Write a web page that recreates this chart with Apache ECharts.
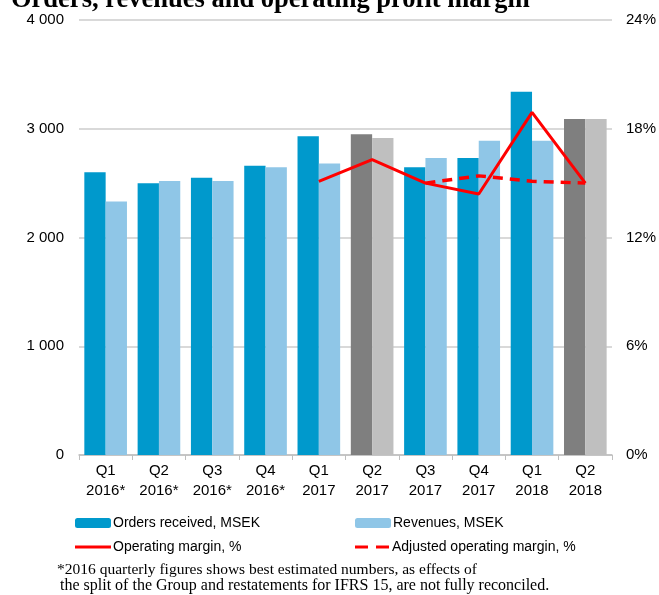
<!DOCTYPE html>
<html>
<head>
<meta charset="utf-8">
<script src="https://cdn.jsdelivr.net/npm/echarts@6/dist/echarts.min.js"></script>
<style>html,body{margin:0;padding:0;background:#fff;}#c{width:659px;height:595px;}</style>
</head>
<body>
<div id="c"></div>
<script>
const categories = ['Q1\n2016*','Q2\n2016*','Q3\n2016*','Q4\n2016*','Q1\n2017','Q2\n2017','Q3\n2017','Q4\n2017','Q1\n2018','Q2\n2018'];
const ordersReceived = [2600, 2500, 2550, 2660, 2930, 2950, 2645, 2730, 3340, 3090];
const revenues = [2330, 2520, 2520, 2645, 2680, 2915, 2730, 2890, 2890, 3090];
const operatingMargin = [null, null, null, null, 15.1, 16.3, 15.0, 14.4, 18.9, 15.0];
const adjustedMargin = [null, null, null, null, null, null, 15.0, 15.4, 15.1, 15.0];
const greyCategories = [5, 9];

const chart = echarts.init(document.getElementById('c'));
const lbl = {fontFamily: 'Liberation Sans', fontSize: 15, color: '#000'};
function barData(vals, normal, grey) {
  return vals.map((v, i) => greyCategories.includes(i) ? {value: v, itemStyle: {color: grey}} : {value: v, itemStyle: {color: normal}});
}
function legendAt(name, left, top, icon, h) {
  const l = {data: [name], left: left, top: top, itemWidth: 36, itemHeight: h, itemGap: 0, padding: 0,
    textStyle: {fontFamily: 'Liberation Sans', fontSize: 14, color: '#000', padding: [0,0,0,-3]}, selectedMode: false};
  if (icon) l.icon = icon;
  return l;
}
chart.setOption({
  animation: false,
  backgroundColor: '#fff',
  grid: {left: 79, right: 47, top: 20, bottom: 140},
  legend: [
    legendAt('Orders received, MSEK', 75, 516, null, 10),
    legendAt('Revenues, MSEK', 355, 516, null, 10),
    legendAt('Operating margin, %', 75, 540, 'path://M0,0H36V3H0Z', 3),
    legendAt('Adjusted operating margin, %', 355, 540, 'path://M0,0H13V3H0Z M21,0H34V3H21Z', 3)
  ],
  xAxis: {
    type: 'category', data: categories,
    axisLine: {lineStyle: {color: '#BFBFBF', width: 1.5}},
    axisTick: {show: true, alignWithLabel: false, length: 5, lineStyle: {color: '#BFBFBF'}},
    axisLabel: Object.assign({}, lbl, {lineHeight: 20, margin: 6, interval: 0})
  },
  yAxis: [
    {type: 'value', min: 0, max: 4000, interval: 1000,
      axisLabel: Object.assign({}, lbl, {margin: 15, formatter: v => v === 0 ? '0' : String(v).replace(/\B(?=(\d{3})+(?!\d))/g, ' ')}),
      splitLine: {lineStyle: {color: '#D9D9D9', width: 2}}, axisLine: {show: false}, axisTick: {show: false}},
    {type: 'value', min: 0, max: 24, interval: 6, position: 'right',
      axisLabel: Object.assign({}, lbl, {margin: 14, formatter: '{value}%'}),
      splitLine: {show: false}, axisLine: {show: false}, axisTick: {show: false}}
  ],
  series: [
    {name: 'Orders received, MSEK', type: 'bar', data: barData(ordersReceived, '#0099CC', '#7F7F7F'),
      itemStyle: {color: '#0099CC'}, barGap: '0%', barCategoryGap: '20%'},
    {name: 'Revenues, MSEK', type: 'bar', data: barData(revenues, '#8FC6E7', '#BFBFBF'),
      itemStyle: {color: '#8FC6E7'}},
    {name: 'Operating margin, %', type: 'line', yAxisIndex: 1, data: operatingMargin,
      symbol: 'none', lineStyle: {color: '#FF0000', width: 3}, itemStyle: {color: '#FF0000'}},
    {name: 'Adjusted operating margin, %', type: 'line', yAxisIndex: 1, data: adjustedMargin,
      symbol: 'none', lineStyle: {color: '#FF0000', width: 3.5, type: [10, 7]}, itemStyle: {color: '#FF0000'}}
  ],
  graphic: [
    {type: 'text', left: 11, top: -13, style: {text: 'Orders, revenues and operating profit margin',
      font: 'bold 26.5px "Liberation Serif"', fill: '#000'}},
    {type: 'text', left: 57, top: 562, style: {text: '*2016 quarterly figures shows best estimated numbers, as effects of',
      font: '15.5px "Liberation Serif"', fill: '#000'}},
    {type: 'text', left: 60, top: 578, style: {text: 'the split of the Group and restatements for IFRS 15, are not fully reconciled.',
      font: '16px "Liberation Serif"', fill: '#000'}}
  ]
});
</script>
</body>
</html>
